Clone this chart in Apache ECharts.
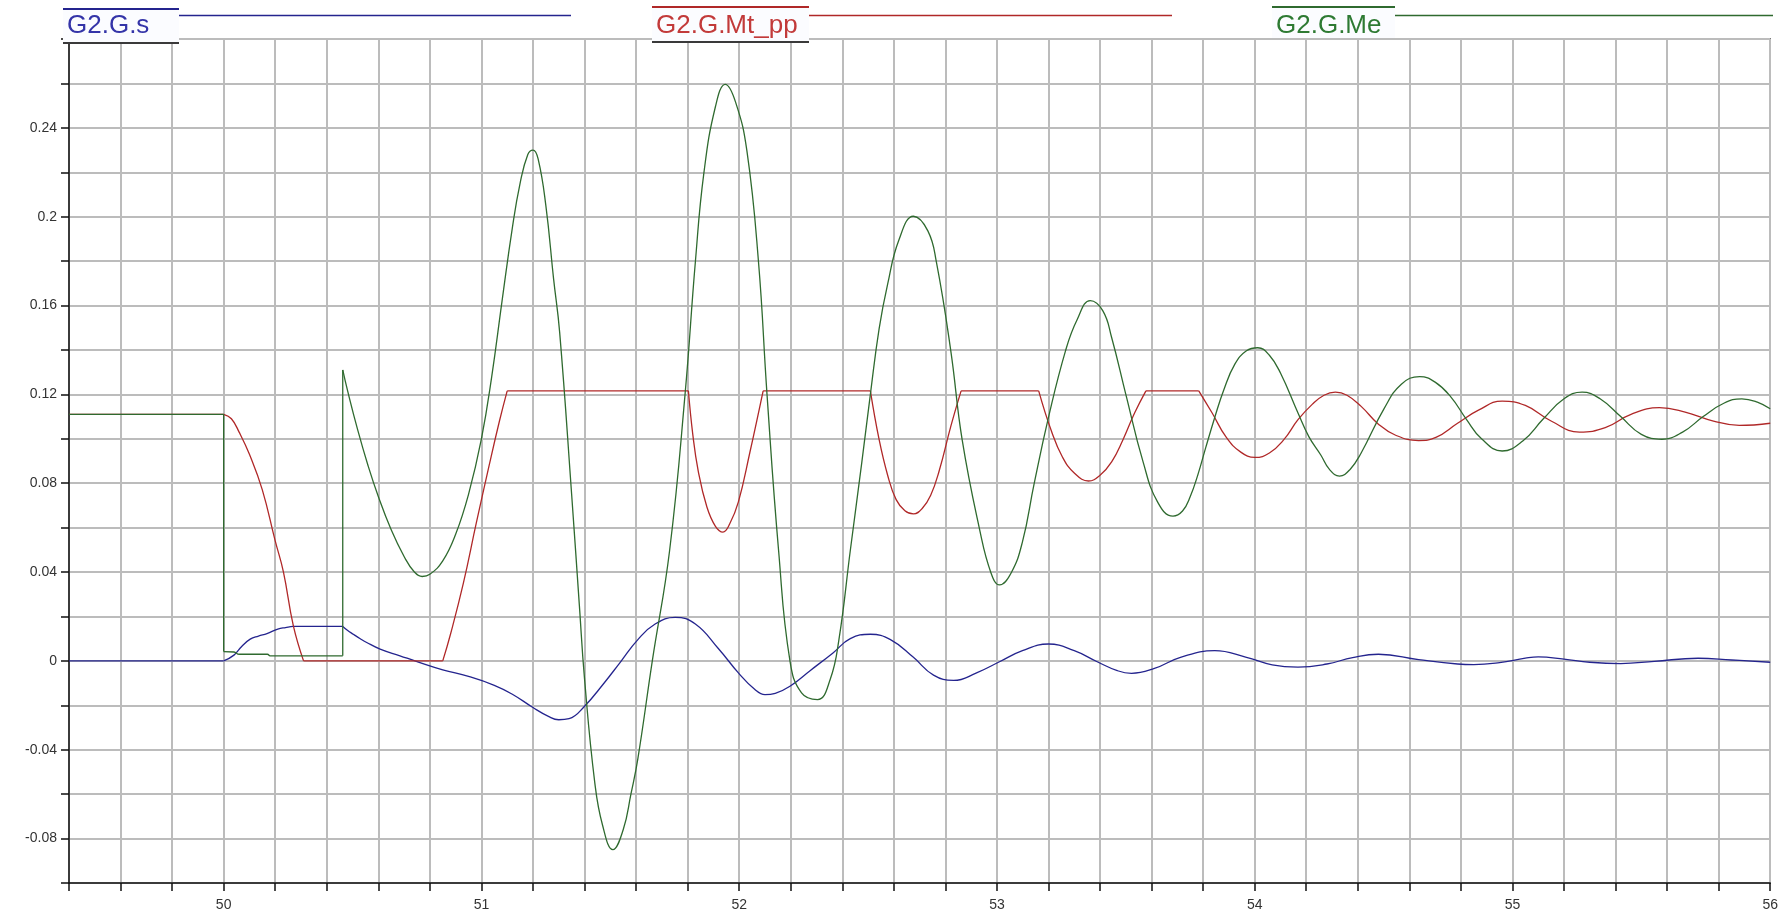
<!DOCTYPE html>
<html>
<head>
<meta charset="utf-8">
<script src="https://cdn.jsdelivr.net/npm/echarts@6/dist/echarts.min.js"></script>
<style>
html,body{margin:0;padding:0;background:#fff;}
#chart{width:1781px;height:917px;}
</style>
</head>
<body>
<div id="chart"></div>
<script>
// ---- data (time, value) ----
const seriesNames = ['G2.G.s', 'G2.G.Mt_pp', 'G2.G.Me'];

const speedS = [
  [49.4,0],[50.0,0],[50.04,0.0026],[50.07,0.0065],[50.103,0.0098],[50.135,0.0112],[50.168,0.0123],
  [50.21,0.0143],[50.24,0.015],[50.27,0.0155],[50.462,0.0155],[50.48,0.0138],[50.503,0.012],
  [50.53,0.010],[50.555,0.0083],[50.607,0.0053],[50.684,0.0023],[50.75,-0.0003],[50.85,-0.004],
  [50.95,-0.007],[51.05,-0.011],[51.12,-0.015],[51.2,-0.021],[51.26,-0.025],[51.3,-0.0265],
  [51.34,-0.026],[51.4,-0.0204],[51.473,-0.0104],[51.54,-0.0004],[51.607,0.0096],[51.674,0.0166],
  [51.752,0.0196],[51.83,0.0166],[51.919,0.0056],[51.997,-0.0054],[52.06,-0.0128],[52.1,-0.0152],
  [52.14,-0.0146],[52.197,-0.0114],[52.275,-0.0044],[52.364,0.0036],[52.431,0.01],[52.509,0.012],
  [52.587,0.0096],[52.676,0.0016],[52.754,-0.0064],[52.832,-0.0088],[52.921,-0.0054],[53.01,-0.0004],
  [53.099,0.0046],[53.2,0.0076],[53.3,0.0046],[53.389,-0.0004],[53.467,-0.0044],[53.522,-0.0056],
  [53.611,-0.0034],[53.712,0.0016],[53.845,0.0046],[53.968,0.0016],[54.068,-0.0018],[54.168,-0.0028],
  [54.28,-0.0014],[54.38,0.0015],[54.48,0.003],[54.636,0.0006],[54.787,-0.0014],[54.85,-0.0017],
  [54.95,-0.0008],[55.05,0.0012],[55.1,0.0018],[55.2,0.0008],[55.3,-0.0006],[55.42,-0.0012],
  [55.55,-0.0002],[55.72,0.0012],[55.85,0.0004],[56.0,-0.0006]
];

const torqueMt = [
  [49.4,0.111],[50.0,0.111],[50.03,0.109],[50.06,0.103],[50.1,0.093],[50.15,0.077],[50.2,0.054],
  [50.232,0.040],[50.27,0.016],[50.31,0],[50.85,0],[50.88,0.012],[50.93,0.035],[50.98,0.062],
  [51.03,0.088],[51.07,0.108],[51.1,0.1216],[51.803,0.1216],[51.82,0.102],[51.841,0.0856],
  [51.874,0.0696],[51.908,0.0606],[51.937,0.058],[51.963,0.0616],[51.997,0.0716],[52.041,0.0936],
  [52.093,0.1216],[52.509,0.1216],[52.543,0.0996],[52.576,0.0836],[52.609,0.0726],[52.643,0.0676],
  [52.676,0.0662],[52.71,0.0686],[52.743,0.0746],[52.776,0.0856],[52.821,0.1056],[52.861,0.1216],
  [53.162,0.1216],[53.211,0.1036],[53.255,0.0916],[53.3,0.0846],[53.355,0.081],[53.4,0.0836],
  [53.445,0.0896],[53.489,0.0996],[53.534,0.1116],[53.578,0.1216],[53.783,0.1216],[53.835,0.1116],
  [53.89,0.1006],[53.946,0.094],[54.001,0.0916],[54.057,0.0936],[54.113,0.0996],[54.168,0.1086],
  [54.224,0.1156],[54.269,0.1196],[54.313,0.121],[54.358,0.1196],[54.413,0.1146],[54.48,0.1066],
  [54.547,0.1016],[54.636,0.0992],[54.703,0.1006],[54.787,0.107],[54.87,0.113],[54.96,0.117],
  [55.05,0.115],[55.15,0.108],[55.26,0.103],[55.36,0.105],[55.46,0.111],[55.57,0.114],[55.67,0.112],
  [55.78,0.108],[55.88,0.106],[56.0,0.107]
];

const torqueMe = [
  [49.4,0.111],[50.0,0.111],[50.0,0.0042],[50.04,0.004],[50.06,0.003],[50.17,0.003],[50.18,0.0023],
  [50.462,0.0023],[50.462,0.131],[50.48,0.122],[50.52,0.104],[50.56,0.088],[50.6,0.074],[50.65,0.059],
  [50.7,0.047],[50.74,0.040],[50.77,0.038],[50.8,0.039],[50.85,0.045],[50.9,0.057],[50.95,0.075],
  [51.0,0.100],[51.04,0.128],[51.08,0.162],[51.12,0.195],[51.15,0.215],[51.18,0.228],[51.2,0.230],
  [51.22,0.226],[51.25,0.205],[51.28,0.172],[51.3035,0.148],[51.35,0.075],[51.38,0.025],[51.4,-0.008],
  [51.44,-0.055],[51.47,-0.074],[51.51,-0.085],[51.55,-0.076],[51.58,-0.060],[51.607,-0.044],
  [51.663,0],[51.73,0.0496],[51.79,0.12],[51.83,0.1796],[51.863,0.2196],[51.908,0.2496],[51.946,0.2596],
  [51.986,0.2516],[52.03,0.2296],[52.075,0.1796],[52.108,0.12],[52.153,0.0496],[52.197,0],
  [52.242,-0.0144],[52.304,-0.0174],[52.353,-0.0084],[52.387,0.0096],[52.431,0.0496],[52.476,0.0896],
  [52.509,0.12],[52.543,0.1496],[52.576,0.1696],[52.62,0.1896],[52.676,0.2002],[52.732,0.1936],
  [52.765,0.1796],[52.821,0.1396],[52.865,0.0996],[52.932,0.0596],[52.977,0.0396],[53.01,0.0342],
  [53.055,0.0396],[53.099,0.0536],[53.144,0.0796],[53.2,0.1096],[53.266,0.1396],[53.311,0.1536],
  [53.362,0.1622],[53.411,0.1576],[53.445,0.1456],[53.5,0.12],[53.567,0.0896],[53.623,0.0716],
  [53.683,0.0652],[53.72,0.0675],[53.75,0.074],[53.78,0.084],[53.81,0.096],[53.845,0.1096],
  [53.88,0.122],[53.923,0.1336],[53.968,0.1396],[54.012,0.141],[54.057,0.1376],[54.1,0.1296],
  [54.168,0.1116],[54.21,0.101],[54.257,0.0926],[54.29,0.0862],[54.329,0.0832],[54.37,0.0862],
  [54.413,0.0936],[54.502,0.1136],[54.569,0.1246],[54.64,0.128],[54.7,0.1255],[54.76,0.119],
  [54.82,0.109],[54.88,0.1],[54.96,0.0945],[55.04,0.099],[55.12,0.109],[55.2,0.118],[55.27,0.121],
  [55.34,0.118],[55.42,0.11],[55.5,0.102],[55.58,0.0998],[55.66,0.103],[55.74,0.110],[55.82,0.116],
  [55.89,0.118],[55.95,0.1165],[56.0,0.1135]
];

// times where the traces have a sharp corner (limiter / switching events)
const cornersS = [50.0, 50.462];
const cornersMt = [50.0, 50.31, 50.85, 51.1, 51.803, 52.093, 52.509, 52.861, 53.162, 53.578, 53.783];
const cornersMe = [50.0, 50.462];

const xLabelValues = [50, 51, 52, 53, 54, 55, 56];
const yLabelValues = [-0.08, -0.04, 0, 0.04, 0.08, 0.12, 0.16, 0.2, 0.24];

const lineColors = ['#24248e', '#b02828', '#2f6a2f'];
const textColors = ['#3434a8', '#c23a3a', '#2e7a33'];

// ---- chart ----
const chart = echarts.init(document.getElementById('chart'), null, {renderer: 'canvas'});

function near(list, v) {
  for (const t of list) if (Math.abs(t - v) < 1e-6) return true;
  return false;
}

// split a trace into pieces at its corner times, so each piece can be smoothed on its own
function splitAtCorners(data, corners) {
  const pieces = [];
  let cur = [];
  data.forEach(p => {
    cur.push(p);
    if (near(corners, p[0]) && cur.length > 1) {
      pieces.push(cur);
      cur = [p];
    }
  });
  if (cur.length > 1) pieces.push(cur);
  return pieces;
}

function makeSeries(name, data, corners, color, z) {
  return splitAtCorners(data, corners).map(piece => ({
    name: name, type: 'line', data: piece, showSymbol: false, symbol: 'none',
    smooth: piece.length > 2 ? 0.45 : false,
    lineStyle: {color: color, width: 1.3}, z: z
  }));
}

const legendBoxes = [
  {x: 63, w: 116, top: 9, bottom: 43, lineEnd: 571, dark: true},
  {x: 652, w: 157, top: 7, bottom: 42, lineEnd: 1172, dark: true},
  {x: 1272, w: 123, top: 7, bottom: 38, lineEnd: 1773, dark: false}
];

const graphics = [];
legendBoxes.forEach((b, i) => {
  graphics.push({type: 'rect', z: 100, shape: {x: b.x, y: b.top, width: b.w, height: b.bottom - b.top},
    style: {fill: '#fbfcff', stroke: null}});
  graphics.push({type: 'line', z: 101, shape: {x1: b.x, y1: b.top, x2: b.x + b.w, y2: b.top},
    style: {stroke: lineColors[i], lineWidth: 2}});
  if (b.dark) {
    graphics.push({type: 'line', z: 101, shape: {x1: b.x, y1: b.bottom, x2: b.x + b.w, y2: b.bottom},
      style: {stroke: '#3a3a3a', lineWidth: 2}});
  }
  graphics.push({type: 'line', z: 101, shape: {x1: b.x + b.w, y1: 15.5, x2: b.lineEnd, y2: 15.5},
    style: {stroke: lineColors[i], lineWidth: 1.5}});
  graphics.push({type: 'text', z: 102, x: b.x + 4, y: 25.5,
    style: {text: seriesNames[i], fill: textColors[i], font: '26px "Liberation Sans", Arial, sans-serif',
      textVerticalAlign: 'middle', textAlign: 'left'}});
});

const option = {
  animation: false,
  backgroundColor: '#ffffff',
  grid: {left: 69, right: 8, top: 39, bottom: 34, show: true, borderColor: '#333', borderWidth: 1.5,
    backgroundColor: 'transparent'},
  xAxis: {
    type: 'value', min: 49.4, max: 56, interval: 0.2,
    axisLine: {show: true, onZero: false, lineStyle: {color: '#111', width: 1.5}},
    axisTick: {show: true, length: 8, inside: false, lineStyle: {color: '#111', width: 1.5}},
    splitLine: {show: true, lineStyle: {color: '#bcbcbc', width: 2}},
    axisLabel: {
      show: true, margin: 15, color: '#333', fontSize: 14, fontFamily: '"Liberation Sans", Arial, sans-serif',
      showMinLabel: true, showMaxLabel: true, hideOverlap: false,
      formatter: v => near(xLabelValues, v) ? String(Math.round(v)) : ''
    }
  },
  yAxis: {
    type: 'value', min: -0.1, max: 0.28, interval: 0.02,
    axisLine: {show: true, onZero: false, lineStyle: {color: '#111', width: 1.5}},
    axisTick: {show: true, length: 8, inside: false, lineStyle: {color: '#111', width: 1.5}},
    splitLine: {show: true, lineStyle: {color: '#bcbcbc', width: 2}},
    axisLabel: {
      show: true, margin: 12, color: '#333', fontSize: 14, fontFamily: '"Liberation Sans", Arial, sans-serif',
      hideOverlap: false,
      formatter: v => near(yLabelValues, v) ? String(parseFloat(v.toFixed(4))) : ''
    }
  },
  series: [].concat(
    makeSeries(seriesNames[0], speedS, cornersS, lineColors[0], 3),
    makeSeries(seriesNames[1], torqueMt, cornersMt, lineColors[1], 4),
    makeSeries(seriesNames[2], torqueMe, cornersMe, lineColors[2], 5)
  ),
  graphic: graphics
};
chart.setOption(option);
</script>
</body>
</html>
